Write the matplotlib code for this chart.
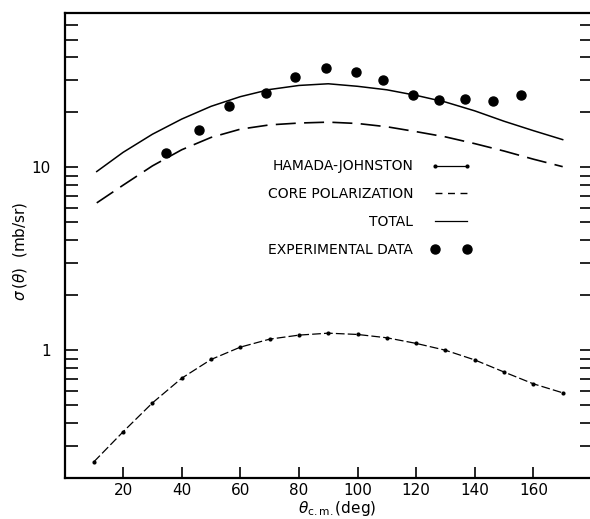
import matplotlib.pyplot as plt
from matplotlib.lines import Line2D
from matplotlib.ticker import LogLocator, NullFormatter

# angles (deg, c.m.) and cross sections (mb/sr)
theta_hj = [10, 20, 30, 40, 50, 60, 70, 80, 90, 100, 110, 120, 130, 140, 150, 160, 170]
sigma_hj = [0.245, 0.358, 0.515, 0.703, 0.89, 1.04, 1.15, 1.21, 1.24, 1.22, 1.17,
            1.09, 1.00, 0.885, 0.76, 0.655, 0.585]

theta_curve = [11, 20, 30, 40, 50, 60, 70, 80, 90, 100, 110, 120, 130, 140, 150, 160, 170]
sigma_core = [6.4, 8.0, 10.2, 12.5, 14.6, 16.2, 17.1, 17.5, 17.7, 17.4, 16.7, 15.7,
              14.7, 13.5, 12.3, 11.1, 10.1]
sigma_total = [9.5, 12.1, 15.2, 18.4, 21.6, 24.4, 26.7, 28.1, 28.7, 27.8, 26.6, 24.8,
               22.8, 20.4, 17.9, 15.9, 14.2]

theta_exp = [34.5, 45.8, 56.2, 68.8, 78.6, 89.1, 99.4, 108.6, 118.8, 127.9, 136.6, 146.1, 155.7]
sigma_exp = [12.0, 16.1, 21.6, 25.5, 31.1, 35.1, 33.2, 30.1, 24.8, 23.4, 23.8, 23.2, 25.0]

labels = ["HAMADA-JOHNSTON", "CORE POLARIZATION", "TOTAL", "EXPERIMENTAL DATA"]

fig = plt.figure(figsize=(5.9, 5.19), dpi=100)
ax = fig.add_axes([64.5 / 590, 41 / 519, 527.5 / 590, 465 / 519])

ax.plot(theta_hj, sigma_hj, color='black', lw=0.9, ls=(0, (7, 2.5)),
        marker='o', markersize=3, markeredgewidth=0)
ax.plot(theta_curve, sigma_core, color='black', lw=1.2, ls=(0, (12, 5)))
ax.plot(theta_curve, sigma_total, color='black', lw=1.1)
ax.plot(theta_exp, sigma_exp, ls='none', marker='o', markersize=6.5, color='black')

ax.set_yscale('log')
ax.set_xlim(0, 180)
ax.set_ylim(0.2, 70)

ax.set_xticks(range(20, 161, 20))
ax.set_yticks([1, 10])
ax.set_yticklabels(['1', '10'])
ax.yaxis.set_minor_locator(LogLocator(base=10, subs=[2, 3, 4, 5, 6, 7, 8, 9]))
ax.yaxis.set_minor_formatter(NullFormatter())

ax.tick_params(axis='x', direction='in', length=8, width=1.2, labelsize=11, pad=3.5)
ax.tick_params(axis='y', which='both', direction='in', length=9, width=1.2,
               left=True, right=True, labelsize=11, pad=10)
for s in ax.spines.values():
    s.set_linewidth(1.6)
ax.spines['right'].set_visible(False)

ax.set_xlabel(r'$\theta_{\rm c.m.}$(deg)', fontsize=11)
ax.xaxis.set_label_coords(0.517, -0.045)
ax.set_ylabel(r'$\sigma\,(\theta)$  (mb/sr)', fontsize=11)
ax.yaxis.set_label_coords(-0.067, 0.488)

# legend keys drawn as in the original key (short dashes, dot-line-dot)
keys = [
    Line2D([], [], color='black', lw=0.9, marker='o', markersize=3, markeredgewidth=0),
    Line2D([], [], color='black', lw=1.0, ls=(0, (5, 4))),
    Line2D([], [], color='black', lw=0.9),
    Line2D([], [], color='black', ls='none', marker='o', markersize=6.5),
]
ax.legend(keys, labels, loc='upper right', bbox_to_anchor=(0.794, 0.712),
          frameon=False, markerfirst=False, numpoints=2, handlelength=2.85,
          handletextpad=1.3, labelspacing=0.99, fontsize=10)

plt.savefig('out.png', dpi=100)
plt.close()
